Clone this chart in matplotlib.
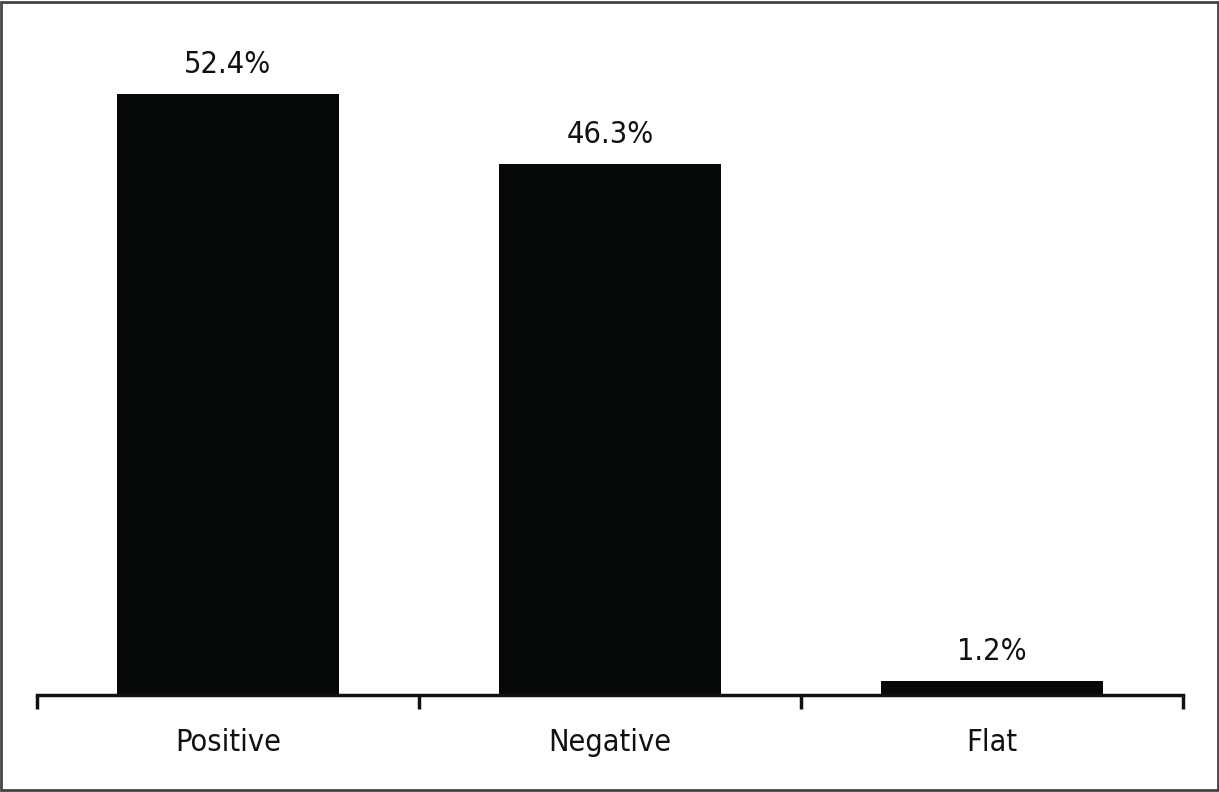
import matplotlib.pyplot as plt
from matplotlib.patches import Rectangle

categories = ["Positive", "Negative", "Flat"]
shares = [52.4, 46.3, 1.2]
value_labels = ["52.4%", "46.3%", "1.2%"]

plt.rcParams['font.family'] = ['DejaVu Sans']
plt.rcParams['font.stretch'] = 'condensed'

fig = plt.figure(figsize=(12.19, 7.92), dpi=100)
ax = fig.add_axes([37 / 1219, (792 - 695) / 792, (1183 - 37) / 1219, 675 / 792])

x = range(len(categories))
ax.bar(x, shares, width=0.58, color="#070908")
for xi, v, lab in zip(x, shares, value_labels):
    ax.annotate(lab, (xi, v), xytext=(0, 11), textcoords="offset points",
                ha="center", va="bottom", fontsize=22, color="#111111")

ax.set_xlim(-0.5, 2.5)
ax.set_ylim(0, 58.85)
ax.set_yticks([])
ax.set_xticks([-0.5, 0.5, 1.5, 2.5])
ax.set_xticklabels([])
ax.set_xticks(x, minor=True)
ax.set_xticklabels(categories, minor=True, fontsize=22, color="#111111")
ax.tick_params(axis="x", which="major", length=10, width=2.5, direction="out", color="#111111")
ax.tick_params(axis="x", which="minor", length=0, pad=24)
for s in ["top", "right", "left"]:
    ax.spines[s].set_visible(False)
ax.spines["bottom"].set_linewidth(2.5)
ax.spines["bottom"].set_color("#111111")

fig.patches.append(Rectangle((0.001, 0.002), 0.998, 0.996, transform=fig.transFigure,
                             fill=False, edgecolor="#444444", linewidth=2))

fig.savefig("out.png", dpi=100)
